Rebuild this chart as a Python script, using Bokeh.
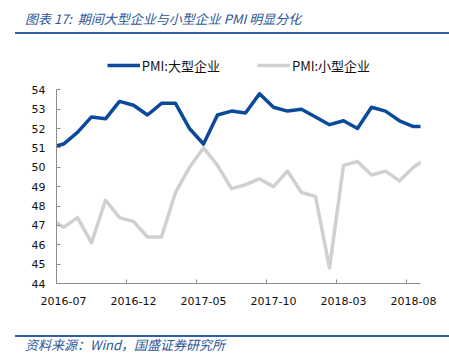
import numpy as np
from bokeh.plotting import figure
from bokeh.models import (ColumnDataSource, FixedTicker, Legend, LegendItem,
                          Range1d, Div)
from bokeh.layouts import column
from bokeh.embed import file_html
from bokeh.resources import INLINE

# ---------------- data ----------------
months = ["2016-06", "2016-07", "2016-08", "2016-09", "2016-10", "2016-11", "2016-12",
          "2017-01", "2017-02", "2017-03", "2017-04", "2017-05", "2017-06", "2017-07",
          "2017-08", "2017-09", "2017-10", "2017-11", "2017-12",
          "2018-01", "2018-02", "2018-03", "2018-04", "2018-05", "2018-06", "2018-07",
          "2018-08", "2018-09"]
pmi_large = [51.0, 51.2, 51.8, 52.6, 52.5, 53.4, 53.2,
             52.7, 53.3, 53.3, 52.0, 51.2, 52.7, 52.9, 52.8, 53.8, 53.1, 52.9, 53.0,
             52.6, 52.2, 52.4, 52.0, 53.1, 52.9, 52.4, 52.1, 52.1]
pmi_small = [47.4, 46.9, 47.4, 46.1, 48.3, 47.4, 47.2,
             46.4, 46.4, 48.7, 50.0, 51.0, 50.1, 48.9, 49.1, 49.4, 49.0, 49.8, 48.7,
             48.5, 44.8, 50.1, 50.3, 49.6, 49.8, 49.3, 50.0, 50.5]
label_large = "PMI:大型企业"
label_small = "PMI:小型企业"
title_text = "图表 17:&nbsp; 期间大型企业与小型企业 PMI 明显分化"
source_text = "资料来源：Wind，国盛证券研究所"
x_tick_months = ["2016-07", "2016-12", "2017-05", "2017-10", "2018-03", "2018-08"]
y_ticks = [44, 45, 46, 47, 48, 49, 50, 51, 52, 53, 54]

# ---------------- build ----------------
x = [months.index(m) - 1 for m in months]
src = ColumnDataSource(dict(x=x, large=pmi_large, small=pmi_small))

n_shown = len(months) - 2
FRAME_H = 233
px_per_unit = 19.37
p = figure(width=449, height=296, output_backend="svg", toolbar_location=None,
           x_range=Range1d(-0.5, n_shown - 0.5),
           y_range=Range1d(44, 44 + FRAME_H / px_per_unit),
           frame_width=364, frame_height=FRAME_H,
           min_border_left=56, min_border_right=29, min_border_top=16,
           min_border_bottom=47, margin=0)
p.outline_line_color = None
p.xgrid.visible = False
p.ygrid.visible = False
p.background_fill_color = "white"
p.border_fill_color = "white"

BLUE = "#0B4A9B"
GRAY = "#D0D0D0"
r_small = p.line("x", "small", source=src, line_color=GRAY, line_width=3.5,
                 line_join="round")
r_large = p.line("x", "large", source=src, line_color=BLUE, line_width=3.5,
                 line_join="round")

major = [months.index(m) - 1 for m in x_tick_months]
minor = [t - 0.5 for t in major]
p.xaxis.ticker = FixedTicker(ticks=major, minor_ticks=minor)
p.xaxis.major_label_overrides = {t: m for t, m in zip(major, x_tick_months)}
p.xaxis.major_tick_in = 0
p.xaxis.major_tick_out = 0
p.xaxis.minor_tick_in = 4
p.xaxis.minor_tick_out = 0
p.xaxis.major_label_standoff = 13

p.yaxis.ticker = FixedTicker(ticks=y_ticks)
p.yaxis.bounds = (min(y_ticks), max(y_ticks))
p.yaxis.major_tick_in = 4
p.yaxis.major_tick_out = 0
p.yaxis.minor_tick_line_color = None
p.yaxis.major_label_standoff = 11

for ax in (p.xaxis[0], p.yaxis[0]):
    ax.axis_line_color = "#8C8C8C"
    ax.major_tick_line_color = "#8C8C8C"
    ax.minor_tick_line_color = "#8C8C8C" if ax is p.xaxis[0] else None
    ax.major_label_text_font = "DejaVu Sans"
    ax.major_label_text_font_size = "11px"
    ax.major_label_text_color = "#111111"

legend = Legend(items=[LegendItem(label=label_large, renderers=[r_large]),
                       LegendItem(label=label_small, renderers=[r_small])],
                orientation="horizontal", location=(50.7, 207.7),
                glyph_width=33, glyph_height=20, label_height=20,
                label_standoff=2, spacing=37, padding=0, margin=0,
                border_line_color=None, background_fill_alpha=0,
                label_text_font="Noto Sans CJK SC", label_text_font_size="13px",
                label_text_color="#111111")
p.add_layout(legend, "center")

TITLE_BLUE = "#2B579A"
RULE = "#2E5FA8"
txt_style = ("font-family:'Noto Sans CJK SC';font-style:italic;font-size:13px;"
             "color:%s;white-space:nowrap;line-height:16px;" % TITLE_BLUE)
top_div = Div(width=449, height=32, margin=0, text=(
    '<p style="margin:0;margin-left:15px;margin-top:11px;padding:0 0 0 10px;width:434px;'
    '%s">%s</p>' % (txt_style, title_text)))
rule_div = Div(width=434, height=2, margin=(0, 0, 0, 15), text="",
               styles={"background-color": RULE})
bottom_div = Div(width=449, height=34, margin=0, text=(
    '<p style="margin:0;margin-left:15px;margin-top:4.5px;padding:0 0 0 10px;width:434px;'
    'border-top:2.4px solid %s;%s">%s</p>' % (RULE, txt_style, source_text)))

layout = column(top_div, rule_div, p, bottom_div, spacing=0)
open("out.html", "w").write(file_html(layout, INLINE))
